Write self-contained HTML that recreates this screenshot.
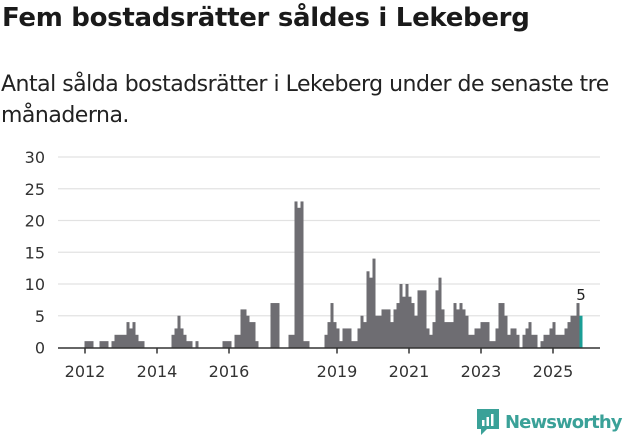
<!DOCTYPE html>
<html><head><meta charset="utf-8"><style>
body{margin:0;width:631px;height:439px;background:#fff;font-family:"Liberation Sans","DejaVu Sans",sans-serif;color:#222;overflow:hidden;position:relative}
h1{position:absolute;left:2px;top:3px;margin:0;font-size:26px;font-weight:bold;color:#1a1a1a;font-family:"DejaVu Sans","Liberation Sans",sans-serif;letter-spacing:-0.3px}
.sub{position:absolute;left:1px;top:69px;margin:0;font-size:22px;line-height:31px;color:#222;font-family:"DejaVu Sans","Liberation Sans",sans-serif;letter-spacing:-0.5px}
svg{position:absolute;left:0;top:0}
</style></head><body>
<h1>Fem bostadsrätter såldes i Lekeberg</h1>
<p class="sub">Antal sålda bostadsrätter i Lekeberg under de senaste tre<br>månaderna.</p>
<svg id="chart" width="631" height="439"></svg>
<script>
const startYear = 2012;
const monthlyValues = [
1,1,1,0,0,1,1,1,0,1,2,2,
2,2,4,3,4,2,1,1,0,0,0,0,
0,0,0,0,0,2,3,5,3,2,1,1,
0,1,0,0,0,0,0,0,0,0,1,1,
1,0,2,2,6,6,5,4,4,1,0,0,
0,0,7,7,7,0,0,0,2,2,23,22,
23,1,1,0,0,0,0,0,2,4,7,4,
3,1,3,3,3,1,1,3,5,4,12,11,
14,5,5,6,6,6,4,6,7,10,8,10,
8,7,5,9,9,9,3,2,4,9,11,6,
4,4,4,7,6,7,6,5,2,2,3,3,
4,4,4,1,1,3,7,7,5,2,3,3,
2,0,2,3,4,2,2,0,1,2,2,3,
4,2,2,2,3,4,5,5,7,5];
const yTicks = [0,5,10,15,20,25,30];
const xTickYears = [2012,2014,2016,2019,2021,2023,2025];
const NS='http://www.w3.org/2000/svg';
const svg=document.getElementById('chart');
const x0=85, pxPerMonth=3, yBase=347.5, pxPerUnit=6.35;
const xScale=m=>x0+m*pxPerMonth;
const yScale=v=>yBase-v*pxPerUnit;
function mk(tag,attrs){const e=document.createElementNS(NS,tag);for(const k in attrs)e.setAttribute(k,attrs[k]);svg.appendChild(e);return e;}
yTicks.forEach(v=>{
  if(v>0){const g=mk('line',{x1:58,x2:600,y1:yScale(v),y2:yScale(v),stroke:'#e2e2e2','stroke-width':1.3});
  
  }
  const t=mk('text',{x:45,y:yScale(v)+6,'text-anchor':'end','font-size':16,fill:'#333','font-family':'DejaVu Sans, Liberation Sans, sans-serif'});
  t.textContent=v;
  
  
});
const last=monthlyValues.length-1;
monthlyValues.forEach((v,i)=>{
  if(v<=0)return;
  const r=mk('rect',{x:xScale(i)-0.5,y:yScale(v),width:pxPerMonth,height:v*pxPerUnit,fill:i===last?'#1a9e96':'#6e6d72'});
  
  
});
const lv=mk('text',{x:xScale(last)+1,y:yScale(monthlyValues[last])-16,'text-anchor':'middle','font-size':15,fill:'#222','font-family':'DejaVu Sans, Liberation Sans, sans-serif'});
lv.textContent=monthlyValues[last];


const ax=mk('line',{x1:58,x2:600,y1:yBase+0.5,y2:yBase+0.5,stroke:'#333','stroke-width':1.5});


xTickYears.forEach(yr=>{
  const x=xScale((yr-startYear)*12);
  const tk=mk('line',{x1:x,x2:x,y1:yBase,y2:yBase+6,stroke:'#333','stroke-width':1.5});
  
  
  const t=mk('text',{x:x,y:377,'text-anchor':'middle','font-size':16,fill:'#333','font-family':'DejaVu Sans, Liberation Sans, sans-serif'});
  t.textContent=yr;
  
  
});
</script>
<div style="position:absolute;left:476px;top:408px;display:flex;align-items:center">
 <svg width="24" height="28" viewBox="0 0 24 28" style="position:static"><path d="M1 1h22v20H11l-6 6v-6H1z" fill="#3aa198"/><rect x="6" y="12" width="2.5" height="6" fill="#fff"/><rect x="10.5" y="9" width="2.5" height="9" fill="#fff"/><rect x="15" y="6" width="2.5" height="12" fill="#fff"/></svg>
 <span style="margin-left:5px;font-size:18px;font-weight:bold;color:#3aa198;font-family:'DejaVu Sans','Liberation Sans',sans-serif;letter-spacing:-0.9px">Newsworthy</span>
</div>
</body></html>
